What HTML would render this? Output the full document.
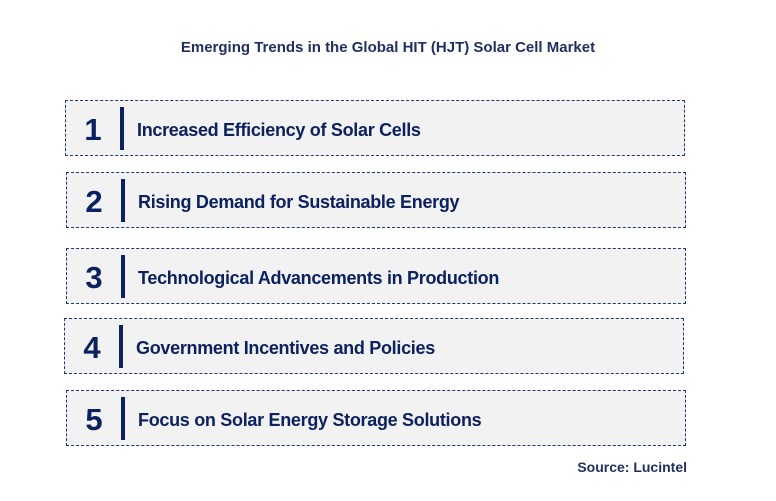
<!DOCTYPE html>
<html><head><meta charset="utf-8"><style>
body{margin:0;width:776px;height:501px;background:#fff;font-family:"Liberation Sans",Arial,sans-serif;position:relative;overflow:hidden}
.t{position:absolute;left:0;width:776px;top:39px;text-align:center;font-size:15px;font-weight:bold;color:#1f2f5f}
.b{position:absolute;height:56px;width:620px;border:1px dashed #1f3870;background:#f2f2f2;box-sizing:border-box}
.n{position:absolute;left:13px;width:28px;top:11px;text-align:center;font-size:31px;font-weight:bold;color:#0b2160}
.v{position:absolute;left:54px;top:6px;width:4px;height:43px;background:#0b2160}
.x{position:absolute;left:71px;top:19px;font-size:18px;font-weight:bold;color:#0b2160;letter-spacing:-0.3px;white-space:nowrap}
.s{position:absolute;right:89px;top:459px;font-size:14px;font-weight:bold;color:#1f2f5f}
</style></head><body>
<div class="t">Emerging Trends in the Global HIT (HJT) Solar Cell Market</div>
<div class="b" style="left:65px;top:100px"><div class="n">1</div><div class="v"></div><div class="x">Increased Efficiency of Solar Cells</div></div>
<div class="b" style="left:66px;top:172px"><div class="n">2</div><div class="v"></div><div class="x">Rising Demand for Sustainable Energy</div></div>
<div class="b" style="left:66px;top:248px"><div class="n">3</div><div class="v"></div><div class="x">Technological Advancements in Production</div></div>
<div class="b" style="left:64px;top:318px"><div class="n">4</div><div class="v"></div><div class="x">Government Incentives and Policies</div></div>
<div class="b" style="left:66px;top:390px"><div class="n">5</div><div class="v"></div><div class="x">Focus on Solar Energy Storage Solutions</div></div>
<div class="s">Source: Lucintel</div>
</body></html>
